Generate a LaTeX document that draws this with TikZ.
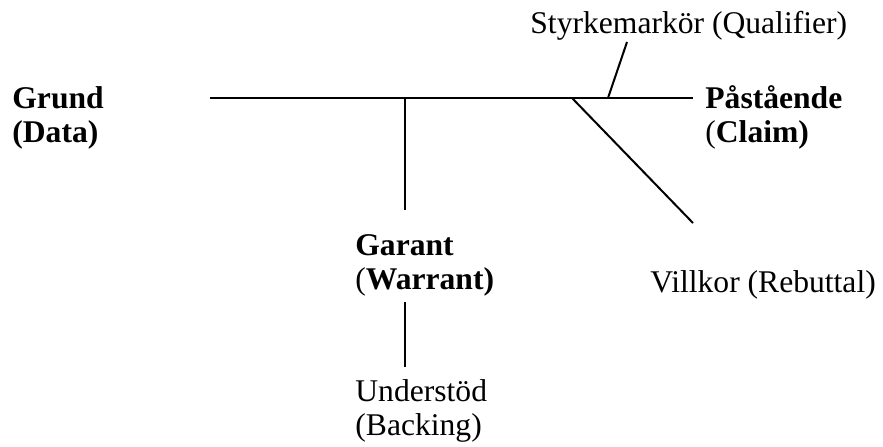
\documentclass[tikz,border=0pt]{standalone}
\usepackage{fontspec}
\setmainfont{Liberation Serif}
\tikzset{
  lbl/.style={anchor=base west, inner sep=0pt, align=left,
    font=\fontsize{15.8pt}{17pt}\selectfont},
  ln/.style={line width=1pt, black}
}
\begin{document}
\begin{tikzpicture}[x=0.5pt,y=-0.5pt]
\useasboundingbox (0,0) rectangle (883,446);
% labels (multi-line nodes: anchor at last baseline)
\node[lbl] (grund) at (12,142) {\textbf{Grund}\\\textbf{(Data)}};
\node[lbl] (claim) at (705,142) {\textbf{Påstående}\\(\textbf{Claim)}};
\node[lbl] (qual) at (530,33) {Styrkemarkör (Qualifier)};
\node[lbl] (warrant) at (355,289) {\textbf{Garant}\\(\textbf{Warrant)}};
\node[lbl] (backing) at (355,435) {Understöd\\(Backing)};
\node[lbl] (rebut) at (650,292) {Villkor (Rebuttal)};
% junction coordinates
\coordinate (dstart) at (210,98);
\coordinate (cend) at (693,98);
\coordinate (wj) at (405,98);
\coordinate (wend) at (405,210);
\coordinate (btop) at (405,302);
\coordinate (bbot) at (405,367);
\coordinate (qj) at (608,98);
\coordinate (qtop) at (627,42);
\coordinate (rj) at (572,98);
\coordinate (rend) at (693,223);
% lines
\draw[ln] (dstart) -- (cend);
\draw[ln] (wj) -- (wend);
\draw[ln] (btop) -- (bbot);
\draw[ln] (qj) -- (qtop);
\draw[ln] (rj) -- (rend);
\end{tikzpicture}
\end{document}
